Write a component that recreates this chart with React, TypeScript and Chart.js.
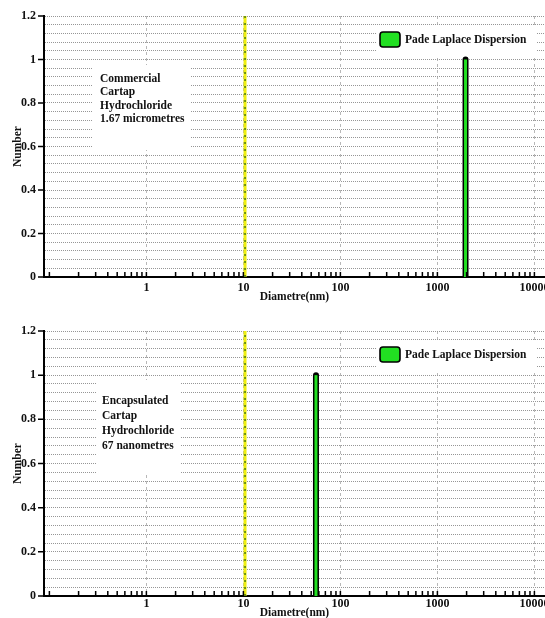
import React, { useEffect, useRef } from "react";
import { Chart, registerables } from "chart.js";

Chart.register(...registerables);

// ---- data ----
const X_MIN = 0.088;
const X_MAX = 12860;
const Y_MIN = 0;
const Y_MAX = 1.2;
const yLabelValues = [0, 0.2, 0.4, 0.6, 0.8, 1, 1.2];
const yGridStep = 0.04;
const xLabelValues = [1, 10, 100, 1000, 10000];
const decadeStarts = [0.1, 1, 10, 100, 1000, 10000];
const mantissas = [1, 2, 3, 4, 5, 6, 7, 8, 9];

const markerLineX = [10.4, 10.4];
const markerLineY = [0, 1.2];

const topPeakX = [1950, 1950];
const topPeakY = [0, 1];
const bottomPeakX = [56, 56];
const bottomPeakY = [0, 1];

const legendLabel = "Pade Laplace Dispersion";
const topNote = ["Commercial", "Cartap", "Hydrochloride", "1.67 micrometres"];
const bottomNote = ["Encapsulated", "Cartap", "Hydrochloride", "67 nanometres"];
const xTitle = "Diametre(nm)";
const yTitle = "Number";

// ---- helpers ----
const FONT = '"Liberation Serif", "Times New Roman", serif';
const xTickValues: number[] = [];
decadeStarts.forEach((d) =>
  mantissas.forEach((m) => {
    const v = d * m;
    if (v >= X_MIN && v <= X_MAX && v <= 10000) xTickValues.push(v);
  })
);
const yGridValues: number[] = [];
for (let i = 0; i <= Math.round((Y_MAX - Y_MIN) / yGridStep); i++) {
  yGridValues.push(+(Y_MIN + i * yGridStep).toFixed(2));
}
const isPow10 = (v: number) =>
  Math.abs(Math.log10(v) - Math.round(Math.log10(v))) < 1e-9;
const zip = (xs: number[], ys: number[]) => xs.map((x, i) => ({ x, y: ys[i] }));

type Box = { x: number; y: number; w: number; h: number; tx: number; ty: number; lh: number };

interface PanelProps {
  top: number;
  height: number;
  padTop: number;
  xAxisHeight: number;
  xLabelPad: number;
  peakX: number[];
  peakY: number[];
  note: string[];
  noteBox: Box;
}

function Panel(p: PanelProps) {
  const ref = useRef<HTMLCanvasElement>(null);
  useEffect(() => {
    if (!ref.current) return;
    const decor = {
      id: "decor",
      beforeDatasetsDraw(chart: any) {
        const { ctx, chartArea: a } = chart;
        const b = p.noteBox;
        ctx.save();
        ctx.fillStyle = "#ffffff";
        ctx.fillRect(a.left + b.x, a.top + b.y, b.w, b.h);
        ctx.fillStyle = "#111111";
        ctx.font = `bold 11.5px ${FONT}`;
        ctx.textBaseline = "middle";
        ctx.textAlign = "left";
        p.note.forEach((t, i) => ctx.fillText(t, a.left + b.tx, a.top + b.ty + i * b.lh));
        ctx.restore();
      },
      afterDatasetsDraw(chart: any) {
        const { ctx, chartArea: a } = chart;
        const ds = chart.data.datasets.find((d: any) => d.label);
        ctx.save();
        ctx.fillStyle = "#ffffff";
        ctx.fillRect(a.left + 332, a.top + 10, 160, 30);
        ctx.beginPath();
        (ctx as any).roundRect(a.left + 336, a.top + 16, 20, 15, 3);
        ctx.fillStyle = ds.borderColor;
        ctx.fill();
        ctx.lineWidth = 1.6;
        ctx.strokeStyle = "#000000";
        ctx.stroke();
        ctx.fillStyle = "#111111";
        ctx.font = `bold 11.5px ${FONT}`;
        ctx.textBaseline = "middle";
        ctx.textAlign = "left";
        ctx.fillText(ds.label, a.left + 361, a.top + 24);
        ctx.restore();
      },
      afterDraw(chart: any) {
        const { ctx, chartArea: a, scales } = chart;
        ctx.save();
        ctx.strokeStyle = "#000000";
        ctx.lineWidth = 1.5;
        ctx.beginPath();
        xTickValues.forEach((v) => {
          const px = scales.x.getPixelForValue(v);
          ctx.moveTo(px, a.bottom);
          ctx.lineTo(px, a.bottom - 5);
        });
        yLabelValues.forEach((v) => {
          const py = scales.y.getPixelForValue(v);
          ctx.moveTo(a.left - 6, py);
          ctx.lineTo(a.left, py);
        });
        ctx.stroke();
        ctx.restore();
      },
    };

    const chart = new Chart(ref.current, {
      type: "line",
      data: {
        datasets: [
          {
            label: legendLabel,
            data: zip(p.peakX, p.peakY),
            borderColor: "#22e022",
            borderWidth: 3,
            pointRadius: 0,
            order: 1,
          },
          {
            data: zip(p.peakX, p.peakY),
            borderColor: "#000000",
            borderWidth: 6,
            borderCapStyle: "round",
            pointRadius: 0,
            order: 2,
          },
          {
            data: zip(markerLineX, markerLineY),
            borderColor: "#2f6a10",
            borderWidth: 1.3,
            borderDash: [2, 5],
            pointRadius: 0,
            order: 3,
          },
          {
            data: zip(markerLineX, markerLineY),
            borderColor: "#eeee10",
            borderWidth: 3,
            pointRadius: 0,
            order: 4,
          },
        ] as any,
      },
      options: {
        animation: false,
        responsive: false,
        maintainAspectRatio: false,
        events: [],
        layout: { padding: { top: p.padTop, left: 0, right: 0, bottom: 0 } },
        plugins: { legend: { display: false }, tooltip: { enabled: false } },
        scales: {
          x: {
            type: "logarithmic",
            min: X_MIN,
            max: X_MAX,
            afterBuildTicks: (s: any) => {
              s.ticks = xTickValues.map((v) => ({ value: v, major: isPow10(v) }));
            },
            afterFit: (s: any) => {
              s.height = p.xAxisHeight;
              s.paddingLeft = 0;
              s.paddingRight = 0;
            },
            grid: {
              drawTicks: false,
              lineWidth: 1,
              color: (c: any) =>
                c.tick && isPow10(c.tick.value) && c.tick.value >= 1 ? "#b8b8b8" : "rgba(0,0,0,0)",
            },
            border: { display: true, color: "#000000", width: 2, dash: [3, 3] },
            ticks: {
              autoSkip: false,
              maxRotation: 0,
              minRotation: 0,
              padding: p.xLabelPad,
              color: "#111111",
              font: { family: FONT, size: 12, weight: "bold" },
              callback: (v: any) =>
                xLabelValues.some((l) => Math.abs(l - Number(v)) < 1e-6 * l) ? String(Math.round(Number(v))) : "",
            },
            title: {
              display: true,
              text: xTitle,
              color: "#111111",
              font: { family: FONT, size: 11.5, weight: "bold" },
              padding: { top: 0, bottom: 0 },
            },
          },
          y: {
            type: "linear",
            min: Y_MIN,
            max: Y_MAX,
            afterBuildTicks: (s: any) => {
              s.ticks = yGridValues.map((v) => ({ value: v }));
            },
            afterFit: (s: any) => {
              s.width = 44;
              s.paddingTop = 0;
              s.paddingBottom = 0;
            },
            grid: {
              drawTicks: false,
              lineWidth: 1,
              color: (c: any) => (c.tick && c.tick.value > 0 ? "#969696" : "rgba(0,0,0,0)"),
            },
            border: { display: true, color: "#000000", width: 2, dash: [1, 1] },
            ticks: {
              autoSkip: false,
              padding: 8,
              color: "#111111",
              font: { family: FONT, size: 12, weight: "bold" },
              callback: (v: any) => {
                const n = Number(v);
                return yLabelValues.some((l) => Math.abs(l - n) < 1e-6) ? String(Math.round(n * 10) / 10) : "";
              },
            },
            title: {
              display: true,
              text: yTitle,
              color: "#111111",
              font: { family: FONT, size: 11.5, weight: "bold" },
              padding: { top: 11, bottom: 0 },
            },
          },
        },
      } as any,
      plugins: [decor as any],
    });
    return () => chart.destroy();
  }, []);
  return (
    <div style={{ position: "absolute", left: 0, top: p.top, width: 545, height: p.height }}>
      <canvas ref={ref} width={545} height={p.height} style={{ width: 545, height: p.height, display: "block" }} />
    </div>
  );
}

export default function App() {
  return (
    <div
      style={{
        position: "fixed",
        left: 0,
        top: 0,
        width: 545,
        height: 618,
        overflow: "hidden",
        background: "#ffffff",
      }}
    >
      <Panel
        top={0}
        height={304}
        padTop={16}
        xAxisHeight={27}
        xLabelPad={4}
        peakX={topPeakX}
        peakY={topPeakY}
        note={topNote}
        noteBox={{ x: 49, y: 49, w: 97, h: 85, tx: 56, ty: 63, lh: 13.4 }}
      />
      <Panel
        top={316}
        height={304}
        padTop={15}
        xAxisHeight={24}
        xLabelPad={1}
        peakX={bottomPeakX}
        peakY={bottomPeakY}
        note={bottomNote}
        noteBox={{ x: 53, y: 49, w: 83, h: 95, tx: 58, ty: 70, lh: 15 }}
      />
    </div>
  );
}
